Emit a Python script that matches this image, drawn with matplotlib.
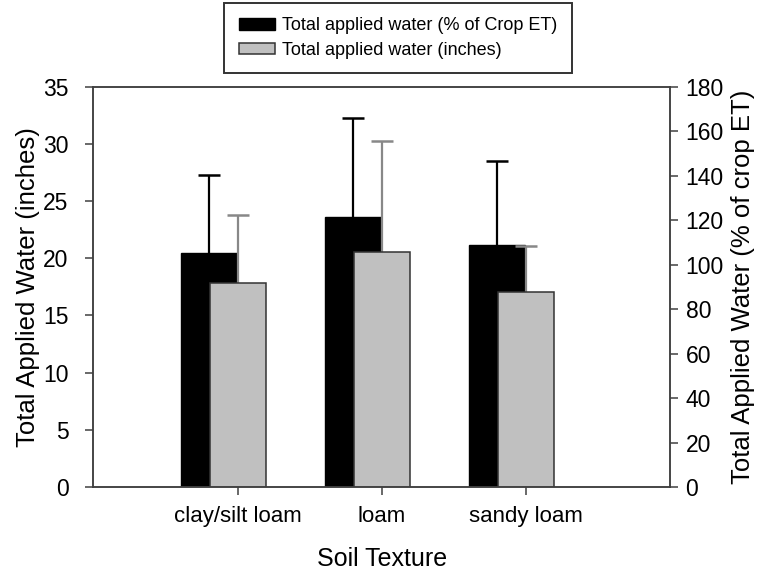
import numpy as np
import matplotlib.pyplot as plt
from matplotlib.patches import Patch

plt.rcParams['font.family'] = ['Liberation Sans', 'DejaVu Sans']

soils = ["clay/silt loam", "loam", "sandy loam"]
pct_et = [105.1, 121.3, 108.9]          # % of crop ET (right axis)
pct_et_err = [35.0, 44.4, 37.5]
inches = [17.8, 20.5, 17.05]            # inches (left axis)
inches_err = [6.0, 9.75, 4.05]

spine_col = "#404040"
x = np.arange(1, len(soils) + 1)
w = 0.39


def upper_err(a, xs, ys, errs, col):
    # one-sided error bar: stem from bar top, cap only at the upper end
    ys = np.asarray(ys)
    errs = np.asarray(errs)
    a.vlines(xs, ys, ys + errs, color=col, linewidth=1.6, zorder=1)
    a.plot(xs, ys + errs, ls="none", marker="_", markersize=16.5,
           markeredgewidth=1.8, color=col, zorder=1)


fig = plt.figure(figsize=(7.66, 5.73), dpi=100)
ax = fig.add_axes([0.122, 0.150, 0.753, 0.699])
ax2 = ax.twinx()

# black bars (% of crop ET) sit behind the grey ones
ax2.bar(x - 0.2, pct_et, w, color="black", edgecolor="black", linewidth=1, zorder=2)
upper_err(ax2, x - 0.2, pct_et, pct_et_err, "black")
ax.bar(x, inches, w, color="#c0c0c0", edgecolor="#333333", linewidth=1.1, zorder=2)
upper_err(ax, x, inches, inches_err, "#888888")
ax.set_zorder(ax2.get_zorder() + 1)
ax.patch.set_visible(False)

ax.set_xlim(0, 4)
ax.set_ylim(0, 35)
ax2.set_ylim(0, 180)
ax.set_xticks(x)
ax.set_xticklabels(soils, fontsize=16)
ax.set_yticks(np.arange(0, 36, 5))
ax2.set_yticks(np.arange(0, 181, 20))
for lab in ax.get_yticklabels() + ax2.get_yticklabels():
    lab.set_fontsize(16.5)

ax.tick_params(axis="y", direction="out", length=6, width=1.1, color=spine_col, pad=12)
ax.tick_params(axis="x", direction="out", length=6, width=1.1, color=spine_col, pad=8)
ax2.tick_params(axis="y", direction="out", length=6, width=1.1, color=spine_col, pad=5)

for a in (ax, ax2):
    for s in a.spines.values():
        s.set_color(spine_col)
        s.set_linewidth(1.1)

ax.set_xlabel("Soil Texture", fontsize=18, labelpad=14)
ax.set_ylabel("Total Applied Water (inches)", fontsize=18.5, labelpad=2)
ax2.set_ylabel("Total Applied Water (% of crop ET)", fontsize=18.5, labelpad=5)

handles = [Patch(facecolor="black", edgecolor="black"),
           Patch(facecolor="#c0c0c0", edgecolor="#333333", linewidth=1.1)]
leg = fig.legend(handles, ["Total applied water (% of Crop ET)",
                           "Total applied water (inches)"],
                 loc="center", bbox_to_anchor=(398 / 766, 1 - 38 / 573),
                 fontsize=13, frameon=True, fancybox=False, edgecolor="black",
                 handlelength=2.0, handleheight=0.6, handletextpad=0.4,
                 borderpad=0.8, labelspacing=0.4)
leg.get_frame().set_linewidth(1.4)

fig.savefig("out.png", dpi=100)
